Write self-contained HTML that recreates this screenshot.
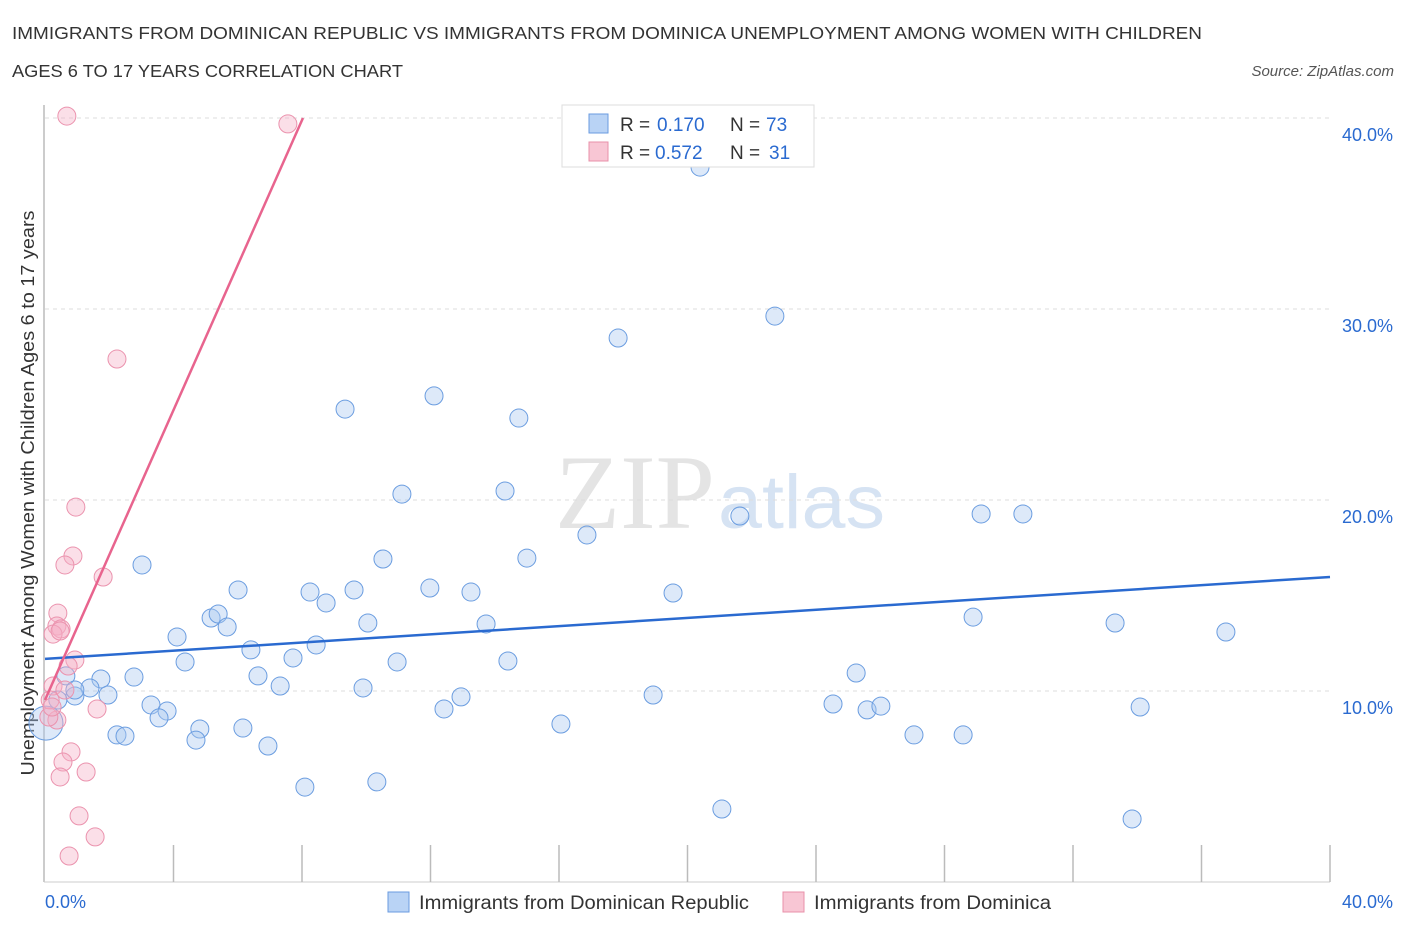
<!DOCTYPE html>
<html><head><meta charset="utf-8"><style>
body{margin:0;background:#fff;font-family:"Liberation Sans",sans-serif;}
svg{display:block}
</style></head><body>
<svg width="1406" height="930" id="chart">
<text x="12" y="39" font-size="17.5" fill="#333" textLength="1190" lengthAdjust="spacingAndGlyphs">IMMIGRANTS FROM DOMINICAN REPUBLIC VS IMMIGRANTS FROM DOMINICA UNEMPLOYMENT AMONG WOMEN WITH CHILDREN</text>
<text x="12" y="77" font-size="17.5" fill="#333" textLength="391" lengthAdjust="spacingAndGlyphs">AGES 6 TO 17 YEARS CORRELATION CHART</text>
<text x="1394" y="76" font-size="15" fill="#555" font-style="italic" text-anchor="end">Source: ZipAtlas.com</text>
<text x="555" y="528" font-size="106" fill="#e4e4e4" font-family="Liberation Serif,serif" textLength="160" lengthAdjust="spacingAndGlyphs">ZIP</text>
<text x="718" y="528" font-size="76" fill="#d6e3f3" textLength="167" lengthAdjust="spacingAndGlyphs">atlas</text>
<text transform="translate(34,493) rotate(-90)" font-size="18" fill="#333" text-anchor="middle" textLength="565" lengthAdjust="spacingAndGlyphs">Unemployment Among Women with Children Ages 6 to 17 years</text>
<g id="grid"></g><g id="pts"></g><g id="lines"></g>
<g>
<rect x="562" y="105" width="252" height="62" fill="#fff" stroke="#ddd"/>
<rect x="589" y="114" width="19" height="19" fill="#b9d3f5" stroke="#6a9be0"/>
<rect x="589" y="142" width="19" height="19" fill="#f8c6d4" stroke="#e890aa"/>
<text x="620" y="131" font-size="19" fill="#333">R =</text>
<text x="657" y="131" font-size="19" fill="#2a6ad0">0.170</text>
<text x="730" y="131" font-size="19" fill="#333">N =</text>
<text x="766" y="131" font-size="19" fill="#2a6ad0">73</text>
<text x="620" y="159" font-size="19" fill="#333">R =</text>
<text x="655" y="159" font-size="19" fill="#2a6ad0">0.572</text>
<text x="730" y="159" font-size="19" fill="#333">N =</text>
<text x="769" y="159" font-size="19" fill="#2a6ad0">31</text>
</g>
<g>
<rect x="388" y="892" width="21" height="20" fill="#b9d3f5" stroke="#6a9be0"/>
<text x="419" y="909" font-size="19" fill="#333" textLength="330" lengthAdjust="spacingAndGlyphs">Immigrants from Dominican Republic</text>
<rect x="783" y="892" width="21" height="20" fill="#f8c6d4" stroke="#e890aa"/>
<text x="814" y="909" font-size="19" fill="#333" textLength="237" lengthAdjust="spacingAndGlyphs">Immigrants from Dominica</text>
</g>
<text x="45" y="908" font-size="18" fill="#2a6ad0">0.0%</text>
<text x="1393" y="908" font-size="18" fill="#2a6ad0" text-anchor="end">40.0%</text>
</svg>
<script>
const yTicks=[10,20,30,40];
const blueX=[20.39,22.72,17.84,9.34,12.11,14.75,11.11,14.32,21.63,16.87,29.14,30.44,3.02,10.52,15.0,6.01,8.25,9.62,11.98,13.26,19.55,8.75,5.17,5.39,5.67,10.05,13.73,28.89,33.31,36.76,4.11,6.41,8.44,7.72,4.36,10.96,14.41,6.63,0.65,2.77,1.74,25.25,1.4,1.96,0.93,7.32,9.9,12.95,18.93,3.3,12.42,24.53,25.59,26.02,34.09,3.8,3.55,4.82,6.16,2.24,2.49,4.7,6.94,16.06,27.05,28.58,8.09,10.33,21.07,33.84,0.4,0.93];
const blueY=[37.43,29.63,28.48,24.76,25.45,24.29,20.31,20.47,19.16,18.17,19.27,19.27,16.6,16.91,16.96,15.29,15.18,15.29,15.39,15.18,15.13,14.61,13.82,14.03,13.35,13.56,13.51,13.87,13.56,13.09,12.83,12.15,12.41,11.73,11.52,11.52,11.57,10.79,10.79,10.73,10.63,10.94,10.16,9.79,9.74,10.26,10.16,9.69,9.79,9.27,9.06,9.32,9.01,9.21,9.16,8.95,8.59,8.01,8.06,7.7,7.64,7.43,7.12,8.27,7.7,7.7,4.97,5.24,3.82,3.3,9.53,10.05];
const pinkX=[0.68,7.56,2.24,0.96,0.87,0.62,1.81,0.4,0.37,0.5,0.25,0.47,0.93,0.72,0.25,0.62,0.16,1.62,0.37,0.12,0.81,0.56,0.47,1.28,1.06,1.56,0.75,0.22];
const pinkY=[40.1,39.69,27.38,19.63,17.07,16.6,15.97,14.08,13.4,13.25,12.98,13.14,11.62,11.31,10.26,10.05,9.53,9.06,8.48,8.64,6.81,6.28,5.5,5.76,3.46,2.36,1.36,9.16];
const bigX=[0.03],bigY=[8.32];
const blueLine=[[0,11.68],[40,15.97]];
const pinkLine=[[0,9.53],[8.03,40.0]];
const sx=v=>45+v*32.125, sy=v=>882-v*19.1;
const NS='http://www.w3.org/2000/svg';
function mk(t,a,p){const e=document.createElementNS(NS,t);for(const k in a)e.setAttribute(k,a[k]);document.getElementById(p).appendChild(e);return e;}
const ax=mk('line',{x1:44,y1:105,x2:44,y2:882,stroke:'#bbb','stroke-width':1.5},'grid');


const bx=mk('line',{x1:44,y1:882,x2:1330,y2:882,stroke:'#ccc'},'grid');


for(let i=1;i<=10;i++){const t=mk('line',{x1:sx(i*4),y1:845,x2:sx(i*4),y2:882,stroke:'#bbb','stroke-width':1.5},'grid');

}
yTicks.forEach(v=>{const g=mk('line',{x1:45,y1:sy(v),x2:1330,y2:sy(v),stroke:'#ddd','stroke-dasharray':'4,4'},'grid');


const t=mk('text',{x:1393,y:sy(v)+23,'font-size':18,fill:'#2a6ad0','text-anchor':'end'},'grid');t.textContent=v.toFixed(1)+'%';

});
blueX.forEach((x,i)=>{const c=mk('circle',{cx:sx(x),cy:sy(blueY[i]),r:9,fill:'rgba(170,200,240,0.4)',stroke:'#6b9de0','stroke-width':1},'pts');

});
bigX.forEach((x,i)=>{const c=mk('circle',{cx:sx(x),cy:sy(bigY[i]),r:17,fill:'rgba(170,200,240,0.4)',stroke:'#6b9de0'},'pts');

});
pinkX.forEach((x,i)=>{const c=mk('circle',{cx:sx(x),cy:sy(pinkY[i]),r:9,fill:'rgba(245,175,198,0.4)',stroke:'#eb93ae','stroke-width':1},'pts');

});
const bl=mk('line',{x1:sx(blueLine[0][0]),y1:sy(blueLine[0][1]),x2:sx(blueLine[1][0]),y2:sy(blueLine[1][1]),stroke:'#2a6ad0','stroke-width':2.5},'lines');


const pl=mk('line',{x1:sx(pinkLine[0][0]),y1:sy(pinkLine[0][1]),x2:sx(pinkLine[1][0]),y2:sy(pinkLine[1][1]),stroke:'#e8648e','stroke-width':2.5},'lines');


</script>
</body></html>
